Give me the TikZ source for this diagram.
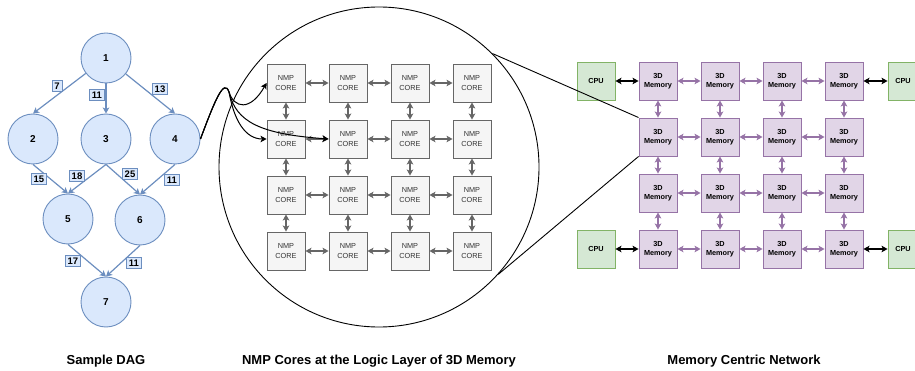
\documentclass[tikz,border=0pt]{standalone}
\usepackage{fontspec}
\setmainfont{Liberation Sans}
\usetikzlibrary{arrows.meta}
\definecolor{dagfill}{HTML}{DAE8FC}
\definecolor{dagline}{HTML}{6C8EBF}
\definecolor{corefill}{HTML}{F5F5F5}
\definecolor{coreline}{HTML}{666666}
\definecolor{coretext}{HTML}{333333}
\definecolor{memfill}{HTML}{E1D5E7}
\definecolor{memline}{HTML}{9673A6}
\definecolor{cpufill}{HTML}{D5E8D4}
\definecolor{cpuline}{HTML}{82B366}
\begin{document}
\begin{tikzpicture}[x=1pt,y=-1pt,>={Stealth[length=6pt,width=6.5pt,inset=1.5pt]}]
    \tikzstyle{task}=[draw=dagline,fill=dagfill,circle,minimum size=50pt,inner sep=0pt,line width=0.9pt,font=\fontsize{10}{12}\selectfont\bfseries];
    \tikzstyle{cost}=[draw=dagline,fill=dagfill,inner sep=2.4pt,line width=0.9pt,font=\fontsize{9.5}{11}\selectfont\bfseries];
    \tikzstyle{dep}=[->,draw=dagline,line width=1.2pt];
    \tikzstyle{core}=[draw=coreline,fill=corefill,text=coretext,minimum size=38pt,inner sep=0pt,line width=0.9pt,align=center,font=\fontsize{7.3}{9.3}\selectfont];
    \tikzstyle{mem}=[draw=memline,fill=memfill,minimum size=38pt,inner sep=0pt,line width=0.9pt,align=center,font=\fontsize{7.3}{9.3}\selectfont\bfseries];
    \tikzstyle{cpu}=[draw=cpuline,fill=cpufill,minimum size=38pt,inner sep=0pt,line width=0.9pt,font=\fontsize{7.3}{9.3}\selectfont\bfseries];
    \tikzstyle{link}=[<->,draw=coreline,line width=1.3pt];
    \tikzstyle{memlink}=[<->,draw=memline,line width=1.4pt];
    \tikzstyle{cpulink}=[<->,draw=black,line width=1.3pt];
    \tikzstyle{zoomline}=[draw=black,line width=0.9pt];
    \tikzstyle{title}=[font=\fontsize{13}{15}\selectfont\bfseries];
    \useasboundingbox (0,0) rectangle (915,371);
    \clip (0,0) rectangle (915,371);
% sample DAG
    \node[task] at (106, 58)  (n1) {1};
    \node[task] at (33, 139)  (n2) {2};
    \node[task] at (106, 139) (n3) {3};
    \node[task] at (175, 139) (n4) {4};
    \node[task] at (68, 219)  (n5) {5};
    \node[task] at (140, 220) (n6) {6};
    \node[task] at (106, 302) (n7) {7};
\draw[dep] (n1) to (n2.north);
\draw[dep] (n1) to (n3);
\draw[dep] (n1) to (n4.north);
\draw[dep] (n2.south) to (n5.north);
\draw[dep] (n3.south) to (n5.north);
\draw[dep] (n3.south) to (n6.north);
\draw[dep] (n4.south) to (n6.north);
\draw[dep] (n5.south) to (n7.north);
\draw[dep] (n6.south) to (n7.north);
    \node[cost] at (57, 86)   (w12) {7};
    \node[cost] at (97, 95)   (w13) {11};
    \node[cost] at (160, 89)  (w14) {13};
    \node[cost] at (39, 179)  (w25) {15};
    \node[cost] at (77, 176)  (w35) {18};
    \node[cost] at (130, 174) (w36) {25};
    \node[cost] at (172, 180) (w46) {11};
    \node[cost] at (73, 261)  (w57) {17};
    \node[cost] at (134, 263) (w67) {11};
% magnified logic layer
    \node[draw,circle,line width=0.9pt,minimum size=320pt,inner sep=0pt] at (379, 167) (mag) {};
\foreach \r in {0,...,3}
  \foreach \c in {0,...,3}
    \node[core] at ({286+62*\c}, {83+56*\r}) (c-\r-\c) {NMP\\CORE};
\foreach \r in {0,...,3}
  \foreach \c/\n in {0/1,1/2,2/3} {
    \draw[link] (c-\r-\c) to (c-\r-\n);
    \draw[link] (c-\c-\r) to (c-\n-\r);
  }
\draw[->,black,line width=1pt] (n4.east) .. controls (215,100) and (224,78) .. (229,92) .. controls (234,108) and (250,112) .. (c-0-0.west);
\draw[->,black,line width=1pt] (n4.east) .. controls (215,100) and (224,78) .. (229,92) .. controls (234,120) and (245,139) .. (c-1-0.west);
\draw[->,black,line width=1pt] (n4.east) .. controls (215,100) and (224,78) .. (229,92) .. controls (236,122) and (260,134) .. (c-1-1.west);
% memory centric network
\foreach \r in {0,...,3}
  \foreach \c in {0,...,3}
    \node[mem] at ({658+62*\c}, {81+56*\r}) (m-\r-\c) {3D\\Memory};
\foreach \r in {0,...,3}
  \foreach \c/\n in {0/1,1/2,2/3} {
    \draw[memlink] (m-\r-\c) to (m-\r-\n);
    \draw[memlink] (m-\c-\r) to (m-\n-\r);
  }
    \node[cpu] at (596, 81)  (cpu-l0) {CPU};
    \node[cpu] at (596, 249) (cpu-l1) {CPU};
    \node[cpu,minimum width=30pt] at (903, 81)  (cpu-r0) {CPU};
    \node[cpu,minimum width=30pt] at (903, 249) (cpu-r1) {CPU};
\draw[cpulink] (cpu-l0) to (m-0-0);
\draw[cpulink] (cpu-l1) to (m-3-0);
\draw[cpulink] (m-0-3) to (cpu-r0);
\draw[cpulink] (m-3-3) to (cpu-r1);
\draw[zoomline] (mag.45) to (m-1-0.north west);
\draw[zoomline] (mag.-42) to (m-1-0.south west);
% captions
    \node[title] at (106, 361) (t-dag) {Sample DAG};
    \node[title] at (379, 361) (t-nmp) {NMP Cores at the Logic Layer of 3D Memory};
    \node[title] at (744, 361) (t-net) {Memory Centric Network};
\end{tikzpicture}
\end{document}
